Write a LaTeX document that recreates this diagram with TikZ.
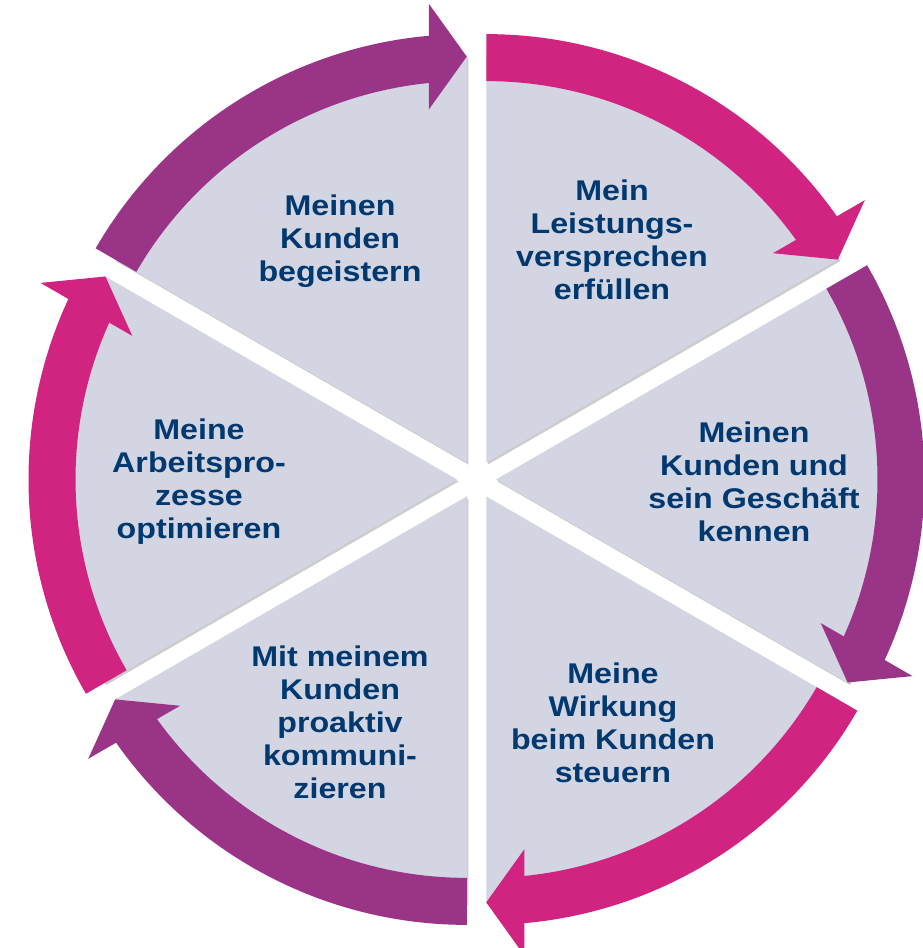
\documentclass[tikz,border=0pt]{standalone}
\usepackage{fontspec}
\setmainfont{Liberation Sans}
\newfontfamily\labelfont{Liberation Sans}[FakeStretch=1.13]
\usetikzlibrary{calc}
\definecolor{wedgegrey}{RGB}{211,213,226}
\definecolor{pinkarrow}{RGB}{208,36,128}
\definecolor{purparrow}{RGB}{154,52,134}
\definecolor{textblue}{RGB}{0,56,112}
\tikzset{
  label text/.style={text=textblue, align=center, inner sep=0pt,
    font=\labelfont\fontsize{28.5}{33}\selectfont\bfseries},
  wedge fill/.style={fill=wedgegrey},
  wedge shadow/.style={fill=black, opacity=0.2},
}
\begin{document}
\begin{tikzpicture}[x=1pt,y=1pt]
\useasboundingbox (0,0) rectangle (923,948);
\fill[white] (0,0) rectangle (923,948);
\clip (0,0) rectangle (923,948);
\coordinate (C) at (476.5,468.5);
% shadows
\foreach \b in {120,60,0,-60,-120,180}{
  \pgfmathsetmacro{\a}{\b-30}
  \fill[wedge shadow] ($(C)+(\b:19.5)+(1.5,-2)$) -- ($(C)+(\b:19.5)+(1.5,-2)+(\a:407)$)
     arc[start angle=\a, delta angle=60, radius=407] -- cycle;
}
% wedges
\foreach \b in {120,60,0,-60,-120,180}{
  \pgfmathsetmacro{\a}{\b-30}
  \fill[wedge fill] ($(C)+(\b:19.5)$) -- ($(C)+(\b:19.5)+(\a:407)$)
     arc[start angle=\a, delta angle=60, radius=407] -- cycle;
}
% arrows
\foreach \b/\col in {120/purparrow,60/pinkarrow,0/purparrow,-60/pinkarrow,-120/purparrow,180/pinkarrow}{
  \pgfmathsetmacro{\ts}{\b+30}
  \pgfmathsetmacro{\tb}{\b-25}
  \pgfmathsetmacro{\tt}{\b-30}
  \pgfmathsetmacro{\tn}{\b+60}
  \pgfmathsetmacro{\tm}{\b+150}
  \coordinate (W) at ($(C)+(\b:19.5)$);
  \fill[\col] ($(W)+(\ts:381.5)$) arc[start angle=\ts, end angle=\tb, radius=381.5]
     -- ($(W)+(\tb:428.5)$) arc[start angle=\tb, end angle=\ts, radius=428.5] -- cycle;
  \fill[\col] ($(W)+(\tt:406)$) -- ($(W)+(\tt:406)+(\tn:38)+(\tt:53)$)
     -- ($(W)+(\tt:406)+(\tn:38)+(\tm:53)$) -- cycle;
}
% labels
\node[label text] (t1) at (340,707) {Meinen\\Kunden\\begeistern};
\node[label text] (t2) at (612,708) {Mein\\Leistungs-\\versprechen\\erfüllen};
\node[label text] (t3) at (754,466) {Meinen\\Kunden und\\sein Geschäft\\kennen};
\node[label text] (t4) at (613,225) {Meine\\Wirkung\\beim Kunden\\steuern};
\node[label text] (t5) at (340,225.5) {Mit meinem\\Kunden\\proaktiv\\kommuni-\\zieren};
\node[label text] (t6) at (199,466) {Meine\\Arbeitspro-\\zesse\\optimieren};
\end{tikzpicture}
\end{document}
